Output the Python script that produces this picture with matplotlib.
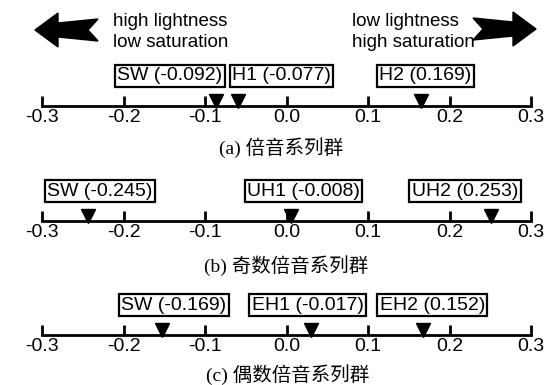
import matplotlib
matplotlib.use('Agg')
import matplotlib.pyplot as plt
from matplotlib.patches import Polygon

plt.rcParams['font.family'] = ['Liberation Sans', 'DejaVu Sans']

# data
tick_vals = [-0.3, -0.2, -0.1, 0.0, 0.1, 0.2, 0.3]
tick_labels = ['-0.3', '-0.2', '-0.1', '0.0', '0.1', '0.2', '0.3']

names_a = ['SW', 'H1', 'H2']
values_a = [-0.092, -0.077, 0.169]
marks_a = [-0.087, -0.060, 0.165]

names_b = ['SW', 'UH1', 'UH2']
values_b = [-0.245, -0.008, 0.253]
marks_b = [-0.244, 0.006, 0.251]

names_c = ['SW', 'EH1', 'EH2']
values_c = [-0.169, -0.017, 0.152]
marks_c = [-0.153, 0.030, 0.167]

captions = ['(a) 倍音系列群', '(b) 奇数倍音系列群', '(c) 偶数倍音系列群']

# layout (pixels in a 559x385 figure)
W, H = 559, 385
line_y = [106, 221, 335]
box_x = [[-0.143, -0.006, 0.170],
         [-0.229, 0.021, 0.219],
         [-0.138, 0.026, 0.179]]
cap_pos = [(281, 148), (286, 266), (288, 375)]

fig = plt.figure(figsize=(W / 100, H / 100), dpi=100)

rows = [(names_a, values_a, marks_a),
        (names_b, values_b, marks_b),
        (names_c, values_c, marks_c)]

for i, (names, vals, marks) in enumerate(rows):
    ax = fig.add_axes([42 / W, 1 - line_y[i] / H, 489 / W, 50 / H])
    ax.set_xlim(-0.3, 0.3)
    ax.set_ylim(0, 50)
    ax.patch.set_visible(False)
    for s in ['top', 'left', 'right']:
        ax.spines[s].set_visible(False)
    ax.spines['bottom'].set_linewidth(2)
    ax.set_yticks([])
    ax.set_xticks(tick_vals)
    ax.set_xticklabels(tick_labels, fontsize=14)
    ax.tick_params(axis='x', direction='in', length=7, width=2, pad=2.5)
    ax.plot(marks, [5.5] * len(marks), 'v', color='black', markersize=10,
            clip_on=False)
    for n, v, bx in zip(names, vals, box_x[i]):
        ax.text(bx, 30, f'{n} ({v:.3f})', fontsize=14, ha='center', va='center',
                bbox=dict(boxstyle='square,pad=0.12', fc='white', ec='black', lw=1.6))
    cx, cy = cap_pos[i]
    fig.text(cx / W, 1 - cy / H, captions[i], ha='center', va='center', fontsize=14,
             family=['Liberation Serif', 'Noto Sans CJK SC'])

# header arrows and text
ov = fig.add_axes([0, 0, 1, 1])
ov.set_xlim(0, W)
ov.set_ylim(H, 0)
ov.axis('off')

def arrow(tip, tail, yc):
    d = 1 if tail > tip else -1
    L = abs(tail - tip)
    pts = [(tip, yc), (tip + d * 23, yc - 17), (tip + d * 23, yc - 7),
           (tip + d * L, yc - 11), (tip + d * (L - 10), yc),
           (tip + d * L, yc + 11), (tip + d * 23, yc + 7), (tip + d * 23, yc + 17)]
    ov.add_patch(Polygon(pts, closed=True, fc='black', ec='black'))

arrow(35, 98, 30)
arrow(536, 473, 29)
ov.text(113, 32, 'high lightness\nlow saturation', fontsize=13.5, ha='left', va='center',
        linespacing=1.25)
ov.text(352, 32, 'low lightness\nhigh saturation', fontsize=13.5, ha='left', va='center',
        linespacing=1.25)

fig.savefig('out.png', dpi=100)
